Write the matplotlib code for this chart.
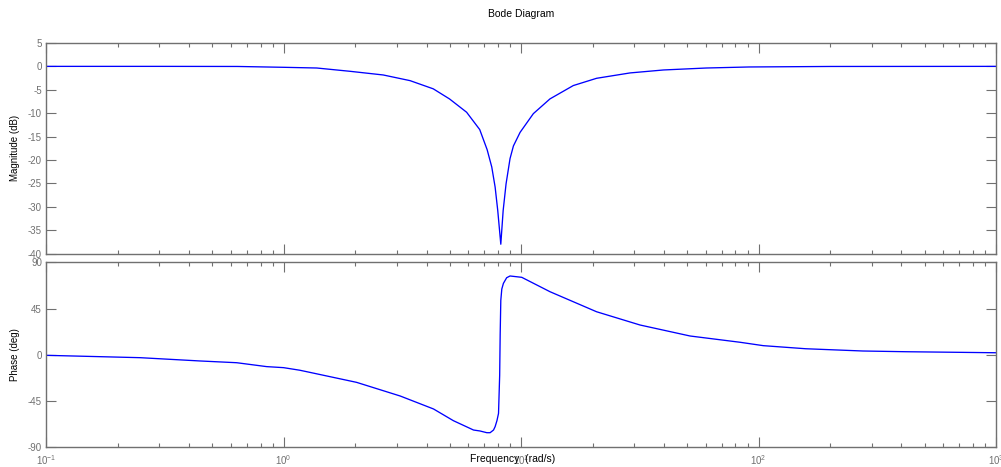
import matplotlib
matplotlib.use("Agg")
import matplotlib.pyplot as plt
from matplotlib.ticker import FixedLocator, FixedFormatter, LogLocator, NullFormatter

plt.rcParams['font.family'] = ['Liberation Sans', 'DejaVu Sans']
plt.rcParams['mathtext.fontset'] = 'custom'
plt.rcParams['mathtext.rm'] = 'Liberation Sans'
plt.rcParams['axes.unicode_minus'] = False

# Magnitude response (rad/s, dB)
mag_freq = [0.1, 0.3, 0.64, 1.0, 1.38, 1.91, 2.63, 3.41, 4.27, 5.0, 5.9, 6.7,
            7.2, 7.53, 7.78, 7.98, 8.22, 8.41, 8.65, 8.99, 9.29, 9.91, 11.27,
            13.24, 16.6, 20.8, 28.8, 39.8, 60.3, 91.2, 200.0, 1000.0]
mag_db = [0.0, 0.0, -0.02, -0.2, -0.35, -1.06, -1.84, -3.05, -4.8, -6.96, -9.8,
          -13.5, -17.8, -21.5, -25.8, -30.8, -38.0, -30.8, -25.1, -19.7, -17.0,
          -14.1, -10.1, -6.95, -4.1, -2.55, -1.4, -0.77, -0.35, -0.13, -0.02, 0.0]

# Phase response (rad/s, deg)
ph_freq = [0.1, 0.249, 0.445, 0.635, 0.849, 1.0, 1.17, 1.25, 2.03, 3.10, 4.28,
           5.19, 6.31, 6.71, 7.18, 7.41, 7.66, 7.78, 7.92, 8.04, 8.13, 8.17,
           8.22, 8.30, 8.43, 8.70, 8.99, 10.07, 13.24, 20.8, 31.7, 51.5, 83.6,
           104.7, 158.0, 275.0, 417.0, 1000.0]
ph_deg = [-0.5, -2.8, -6.0, -7.7, -11.5, -12.5, -15.0, -16.4, -26.8, -40.1,
          -52.7, -64.1, -73.2, -74.1, -75.8, -75.8, -73.2, -69.9, -64.0, -57.0,
          -20.0, 20.0, 53.0, 64.0, 69.5, 75.0, 76.7, 75.4, 61.4, 41.9, 29.0,
          18.3, 12.2, 8.9, 5.9, 3.7, 3.0, 2.0]

mag_ticks = [5, 0, -5, -10, -15, -20, -25, -30, -35, -40]
ph_ticks = [90, 45, 0, -45, -90]
freq_ticks = [0.1, 1, 10, 100, 1000]
freq_labels = [r'$10^{-1}$', r'$10^{0}$', r'$10^{1}$', r'$10^{2}$', r'$10^{3}$']

GREY = '#707070'

fig = plt.figure(figsize=(10.01, 4.67), dpi=100)
ax1 = fig.add_axes([0.046, 0.457, 0.949, 0.451])
ax2 = fig.add_axes([0.046, 0.0422, 0.949, 0.3961])

ax1.plot(mag_freq, mag_db, color='#0000ff', lw=0.95)
ax2.plot(ph_freq, ph_deg, color='#0000ff', lw=0.95)

for ax in (ax1, ax2):
    ax.set_xscale('log')
    ax.set_xlim(0.1, 1000)
    for sp in ax.spines.values():
        sp.set_color(GREY)
        sp.set_linewidth(1.0)
    ax.tick_params(which='both', direction='in', top=True, right=True,
                   color=GREY, labelcolor=GREY, labelsize=7, width=0.8)
    ax.tick_params(which='major', length=7)
    ax.tick_params(which='minor', length=3)
    ax.xaxis.set_major_locator(FixedLocator(freq_ticks))
    ax.xaxis.set_minor_locator(LogLocator(base=10, subs=range(2, 10)))
    ax.xaxis.set_minor_formatter(NullFormatter())
    ax.yaxis.set_tick_params(pad=3)

ax1.set_ylim(-40, 5)
ax1.set_yticks(mag_ticks)
ax1.xaxis.set_major_formatter(NullFormatter())
ax1.set_ylabel('Magnitude (dB)', fontsize=7)
ax1.yaxis.set_label_coords(-0.027, 0.5)

ax2.set_ylim(-90, 90)
ax2.set_yticks(ph_ticks)
ax2.xaxis.set_major_formatter(FixedFormatter(freq_labels))
ax2.tick_params(axis='x', pad=4)
ax2.set_ylabel('Phase (deg)', fontsize=7)
ax2.yaxis.set_label_coords(-0.027, 0.5)

fig.text(0.512, 0.017, 'Frequency  (rad/s)', ha='center', va='center', fontsize=7.5)
fig.text(0.521, 0.97, 'Bode Diagram', ha='center', va='center', fontsize=7.5)

fig.savefig('out.png', dpi=100)
